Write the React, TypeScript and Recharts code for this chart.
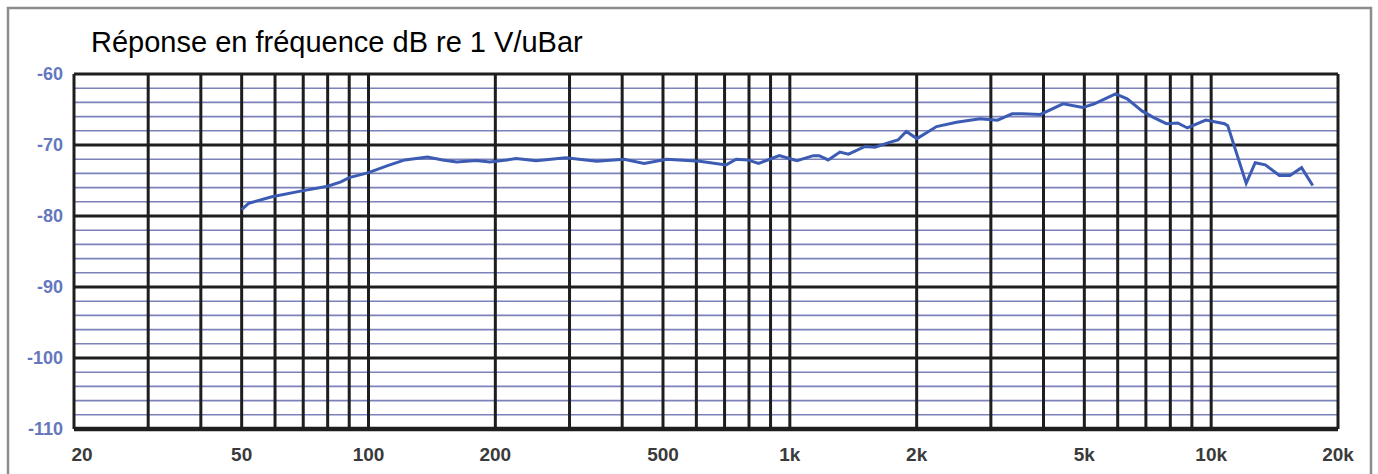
import { LineChart, Line, XAxis, YAxis, CartesianGrid, ReferenceLine } from 'recharts';

// fréquences (Hz) et niveau relevé (dB re 1 V/uBar)
const freqs = [
  50, 52, 59, 69, 80, 86, 90, 100, 111, 122, 138, 150, 162, 180, 194, 213, 224, 250, 294, 348,
  404, 451, 510, 611, 706, 746, 794, 843, 944, 1011, 1040, 1137, 1174, 1233, 1315, 1378, 1509,
  1593, 1732, 1806, 1890, 2003, 2230, 2487, 2828, 3110, 3370, 3560, 3934, 4450, 4960, 5280,
  5930, 6320, 6850, 7290, 7830, 8330, 8780, 9710, 10760, 10950, 12110, 12720, 13440, 14520,
  15380, 16390, 17420
];
const levels = [
  -79.1, -78.2, -77.3, -76.5, -75.8, -75.2, -74.6, -73.9, -72.9, -72.1, -71.7, -72.1, -72.4,
  -72.2, -72.4, -72.1, -71.9, -72.2, -71.8, -72.3, -72.0, -72.6, -72.0, -72.3, -72.8, -72.0,
  -72.1, -72.6, -71.5, -72.0, -72.2, -71.5, -71.5, -72.1, -71.0, -71.3, -70.2, -70.3, -69.6,
  -69.3, -68.1, -69.1, -67.4, -66.8, -66.3, -66.5, -65.6, -65.6, -65.7, -64.2, -64.7, -64.2,
  -62.8, -63.5, -65.2, -66.1, -67.0, -66.9, -67.6, -66.5, -67.0, -67.3, -75.4, -72.5, -72.8,
  -74.3, -74.3, -73.2, -75.7
];

const xTicks = [20, 50, 100, 200, 500, 1000, 2000, 5000, 10000, 20000];
const xTickLabels = ['20', '50', '100', '200', '500', '1k', '2k', '5k', '10k', '20k'];
const yTicks = [-110, -100, -90, -80, -70, -60];
const majorY = [-60, -70, -80, -90, -100, -110];
const minorY = [
  -62, -64, -66, -68, -72, -74, -76, -78, -82, -84, -86, -88, -92, -94, -96, -98, -102, -104,
  -106, -108
];
const gridX = [
  20, 30, 40, 50, 60, 70, 80, 90, 100, 200, 300, 400, 500, 600, 700, 800, 900, 1000, 2000, 3000,
  4000, 5000, 6000, 7000, 8000, 9000, 10000, 20000
];

const data = freqs.map((f, i) => ({ f, level: levels[i] }));

const XTick = (props: any) => {
  const { x, y, payload } = props;
  const idx = xTicks.indexOf(payload.value);
  const label = idx >= 0 ? xTickLabels[idx] : String(payload.value);
  const shift = payload.value === 20 ? 8 : 0;
  return (
    <text
      x={x + shift}
      y={y}
      dy={26}
      textAnchor="middle"
      fill="#3a3a3a"
      fontSize={19}
      fontWeight="bold"
      fontFamily="'Liberation Sans', Arial, sans-serif"
    >
      {label}
    </text>
  );
};

const App = () => {
  return (
    <div style={{ position: 'absolute', left: 0, top: 0, width: 1378, height: 474, background: '#fff' }}>
      <svg
        width={1378}
        height={474}
        style={{ position: 'absolute', left: 0, top: 0, pointerEvents: 'none' }}
      >
        <polyline points="8,480 8,8 1371,8 1371,480" fill="none" stroke="#8c8c8c" strokeWidth={2.5} />
        <text
          x={91}
          y={52}
          fontSize={29}
          fill="#000"
          fontFamily="'Liberation Sans', Arial, sans-serif"
        >
          Réponse en fréquence dB re 1 V/uBar
        </text>
      </svg>
      <div style={{ position: 'absolute', left: 0, top: 0 }}>
        <LineChart
          width={1378}
          height={474}
          data={data}
          margin={{ top: 74, right: 40, bottom: 0, left: 0 }}
        >
          <CartesianGrid
            vertical={false}
            horizontalValues={minorY}
            stroke="#7b82ba"
            strokeWidth={1.6}
          />
          <CartesianGrid
            horizontalValues={majorY}
            verticalValues={gridX}
            stroke="#1e1e1e"
            strokeWidth={3}
          />
          <XAxis
            dataKey="f"
            type="number"
            scale="log"
            domain={[20, 20000]}
            ticks={xTicks}
            allowDataOverflow
            axisLine={false}
            tickLine={false}
            tickSize={0}
            tickMargin={6}
            height={45}
            tick={<XTick />}
            interval={0}
          />
          <YAxis
            type="number"
            domain={[-110, -60]}
            ticks={yTicks}
            width={74}
            axisLine={false}
            tickLine={false}
            tickSize={0}
            tickMargin={11}
            interval={0}
            tick={{
              fill: '#6577bd',
              fontSize: 18,
              fontWeight: 'bold',
              fontFamily: "'Liberation Sans', Arial, sans-serif"
            }}
          />
          <ReferenceLine y={-110} stroke="#1e1e1e" strokeWidth={4.5} />
          <Line
            type="linear"
            dataKey="level"
            stroke="#3c5cb4"
            strokeWidth={3}
            dot={false}
            isAnimationActive={false}
          />
        </LineChart>
      </div>
    </div>
  );
};

export default App;
